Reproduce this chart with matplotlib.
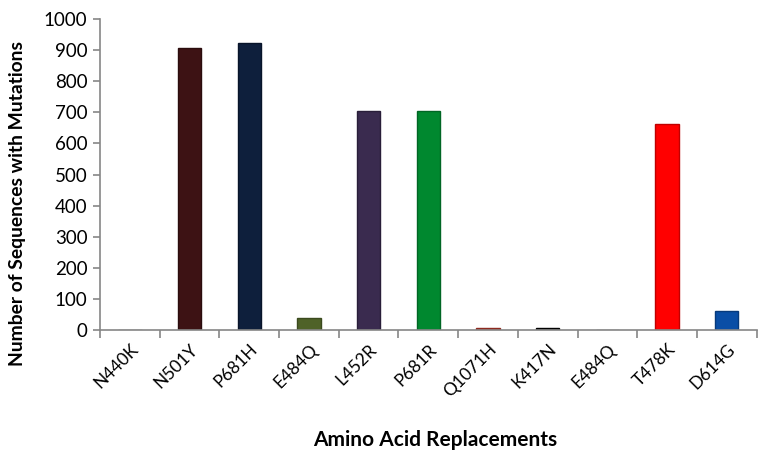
import matplotlib
matplotlib.use("Agg")
import matplotlib.pyplot as plt
import numpy as np

plt.rcParams['font.family'] = ['Lato', 'DejaVu Sans']

# данные
mutations = ["N440K", "N501Y", "P681H", "E484Q", "L452R", "P681R",
             "Q1071H", "K417N", "E484Q", "T478K", "D614G"]
counts = [0, 907, 923, 40, 705, 705, 7, 7, 0, 662, 60]
bar_colors = ["#7f7f7f", "#3d1214", "#0e1f3c", "#4f6228", "#3a2b4f", "#00882f",
              "#c0392b", "#111111", "#7f7f7f", "#ff0000", "#0a4ea6"]
edge_colors = ["#7f7f7f", "#2a0c0d", "#081429", "#3b4a1e", "#291e39", "#006624",
               "#8e2a20", "#000000", "#7f7f7f", "#c00000", "#073a7c"]

fig = plt.figure(figsize=(7.6, 4.51), dpi=100)
ax = fig.add_axes([0.1316, 0.268, 0.864, 0.690])

x = np.arange(len(mutations))
ax.bar(x, counts, width=0.39, color=bar_colors, edgecolor=edge_colors, linewidth=1)

ax.set_xlim(-0.5, len(mutations) - 0.5)
ax.set_ylim(0, 1000)
ax.set_yticks(np.arange(0, 1001, 100))

# тики между категориями, подписи по центру
ax.set_xticks(np.arange(-0.5, len(mutations), 1.0))
ax.set_xticklabels([])
ax.set_xticks(x, minor=True)
ax.set_xticklabels(mutations, minor=True, rotation=45, ha='right',
                   rotation_mode='anchor', fontsize=12.5)
ax.tick_params(axis='x', which='minor', length=0, pad=8)
ax.tick_params(axis='x', which='major', length=6, width=1.2, color='#868686')
ax.tick_params(axis='y', length=5, width=1.2, color='#868686', labelsize=13.5, pad=4)

for s in ['top', 'right']:
    ax.spines[s].set_visible(False)
for s in ['left', 'bottom']:
    ax.spines[s].set_color('#868686')
    ax.spines[s].set_linewidth(1.2)

ax.set_ylabel("Number of Sequences with Mutations", fontsize=13.9, fontweight='bold')
ax.yaxis.label.set_va('center')
ax.yaxis.set_label_coords(-0.125, 0.408)
ax.set_xlabel("Amino Acid Replacements", fontsize=15, fontweight='bold')
ax.xaxis.label.set_va('center')
ax.xaxis.set_label_coords(0.51, -0.354)

fig.savefig("out.png", dpi=100)
